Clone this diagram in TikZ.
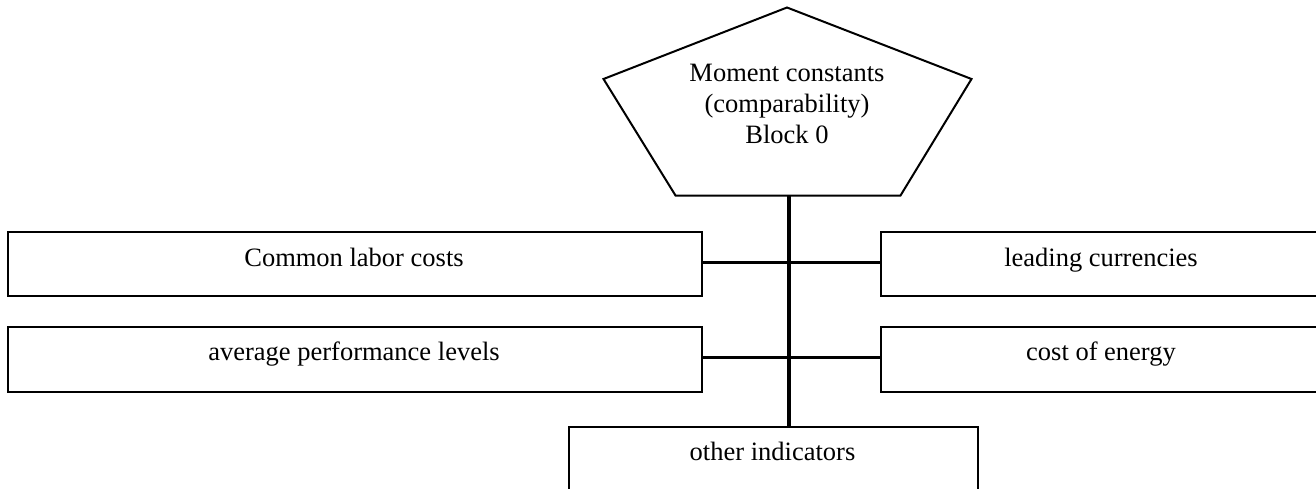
\documentclass[tikz,border=0pt]{standalone}
\usepackage{fontspec}
\setmainfont{Liberation Serif}
\begin{document}
\begin{tikzpicture}[x=1pt,y=-1pt,
  box/.style={draw=black, line width=2pt, rectangle, inner sep=0pt, fill=white},
  lbl/.style={font=\fontsize{26.5}{31}\selectfont, inner sep=0pt, anchor=base},
  conn/.style={draw=black, line width=2.8pt},
  trunk/.style={draw=black, line width=3.5pt},
  pent/.style={draw=black, line width=2pt, line join=miter}]
\useasboundingbox (0,0) rectangle (1316,489);
\clip (0,0) rectangle (1316,489);
% pentagon
\coordinate (pt) at (787,7.5);
\coordinate (pl) at (603.5,79);
\coordinate (pr) at (971.5,79);
\coordinate (pbl) at (675.5,195.5);
\coordinate (pbr) at (900.5,195.5);
\coordinate (pbot) at (789,195.5);
\draw[pent] (pt) -- (pr) -- (pbr) -- (pbl) -- (pl) -- cycle;
\node[lbl, align=center, anchor=base] (mc) at (787,144) {Moment constants\\(comparability)\\Block 0};
% boxes
\node[box, minimum width=694.5pt, minimum height=64pt] (clc) at (354.75,264) {};
\node[box, minimum width=694.5pt, minimum height=64.5pt] (apl) at (354.75,359.25) {};
\node[box, minimum width=441pt, minimum height=64pt] (lc) at (1101.5,264) {};
\node[box, minimum width=441pt, minimum height=64.5pt] (ce) at (1101.5,359.25) {};
\node[box, minimum width=409pt, minimum height=90pt] (oi) at (773.5,471.5) {};
% labels
\node[lbl] (clct) at (354,266.7) {Common labor costs};
\node[lbl] (aplt) at (354,360) {average performance levels};
\node[lbl] (lct) at (1101,266) {leading currencies};
\node[lbl] (cet) at (1101,360) {cost of energy};
\node[lbl] (oit) at (772.5,460.7) {other indicators};
% connectors
\coordinate (j1) at (789,262.3);
\coordinate (j2) at (789,357.3);
\draw[conn] (clc.east |- j1) -- (lc.west |- j1);
\draw[conn] (apl.east |- j2) -- (ce.west |- j2);
\draw[trunk] (pbot) -- (pbot |- oi.north);
\end{tikzpicture}
\end{document}
